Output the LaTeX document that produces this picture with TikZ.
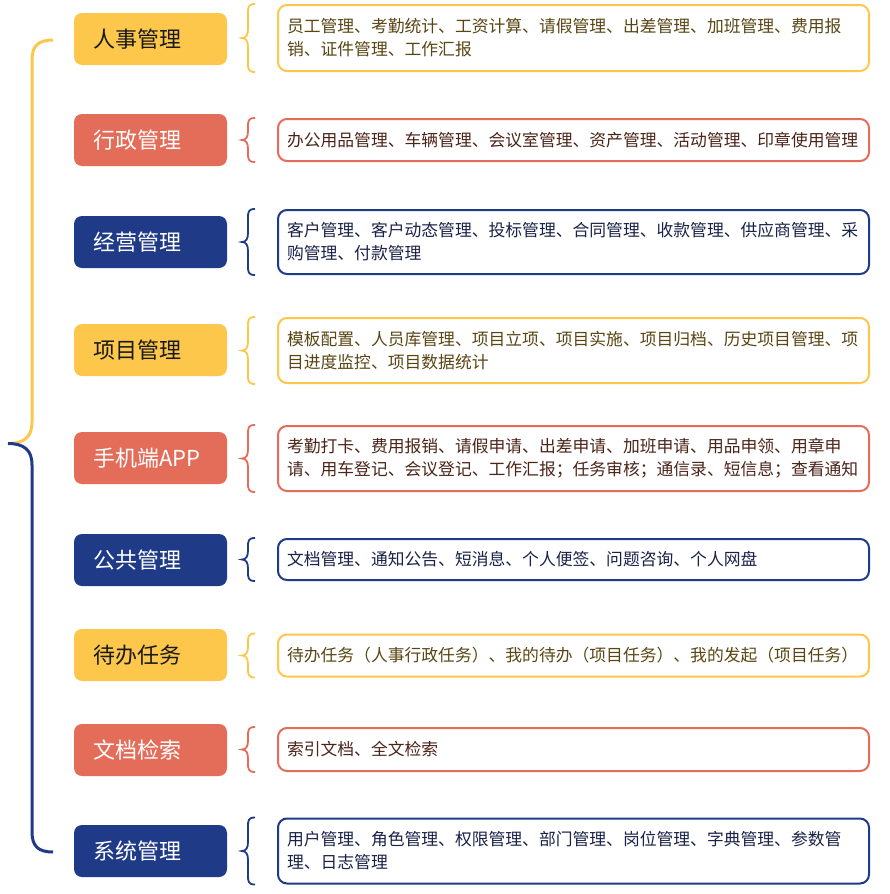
\documentclass[tikz,border=0pt]{standalone}
\usepackage{fontspec}
\setmainfont{Noto Sans CJK SC}
\usetikzlibrary{calc}
\definecolor{cy}{HTML}{FDC74C}
\definecolor{cr}{HTML}{E46D5A}
\definecolor{cn}{HTML}{1F3B87}
\definecolor{ty}{HTML}{5A4614}
\definecolor{tr}{HTML}{4B2418}
\definecolor{tn}{HTML}{1B2248}
\tikzset{
  cat/.style={rounded corners=8pt, minimum width=153pt, minimum height=52pt,
    text width=115pt, inner xsep=19pt, align=left,
    font=\fontsize{22}{25}\selectfont},
  caty/.style={cat, fill=cy, text=black!90},
  catr/.style={cat, fill=cr, text=white},
  catn/.style={cat, fill=cn, text=white},
  det/.style={draw, line width=2pt, rounded corners=9pt, fill=white,
    minimum width=591pt, text width=573pt, inner xsep=9pt, align=left,
    font=\fontsize{16.8}{23}\selectfont},
  dety/.style={det, draw=cy, text=ty},
  detr/.style={det, draw=cr, text=tr},
  detn/.style={det, draw=cn, text=tn},
}
\newcommand\sbrace[2]{%
  \draw[#2, line width=1.8pt] let \p1=(#1.north west), \p2=(#1.south west),
    \n1={0.5*\y1+0.5*\y2} in
    (\x1-22pt,\y1) .. controls (\x1-29pt,\y1) and (\x1-29pt,\y1-3pt) .. (\x1-29pt,\y1-10pt)
    -- (\x1-29pt,\n1+9pt) .. controls (\x1-29pt,\n1+3pt) and (\x1-31pt,\n1) .. (\x1-35pt,\n1)
    .. controls (\x1-31pt,\n1) and (\x1-29pt,\n1-3pt) .. (\x1-29pt,\n1-9pt)
    -- (\x1-29pt,\y2+10pt) .. controls (\x1-29pt,\y2+3pt) and (\x1-29pt,\y2) .. (\x1-22pt,\y2);}
\begin{document}
\begin{tikzpicture}[x=1pt,y=-1pt]
\useasboundingbox (0,0) rectangle (890,894);
\fill[white] (0,0) rectangle (890,894);

% category nodes
\node[caty] (c1) at (150.5,39) {人事管理};
\node[catr] (c2) at (150.5,140) {行政管理};
\node[catn] (c3) at (150.5,242) {经营管理};
\node[caty] (c4) at (150.5,350) {项目管理};
\node[catr] (c5) at (150.5,458) {手机端APP};
\node[catn] (c6) at (150.5,560) {公共管理};
\node[caty] (c7) at (150.5,655) {待办任务};
\node[catr] (c8) at (150.5,750) {文档检索};
\node[catn] (c9) at (150.5,851) {系统管理};

% detail nodes
\node[dety, minimum height=66pt] (d1) at (573.5,38) {员工管理、考勤统计、工资计算、请假管理、出差管理、加班管理、费用报\\销、证件管理、工作汇报};
\node[detr, minimum height=42pt] (d2) at (573.5,140) {办公用品管理、车辆管理、会议室管理、资产管理、活动管理、印章使用管理};
\node[detn, minimum height=64pt] (d3) at (573.5,242) {客户管理、客户动态管理、投标管理、合同管理、收款管理、供应商管理、采\\购管理、付款管理};
\node[dety, minimum height=65pt] (d4) at (573.5,350.5) {模板配置、人员库管理、项目立项、项目实施、项目归档、历史项目管理、项\\目进度监控、项目数据统计};
\node[detr, minimum height=65pt] (d5) at (573.5,458.5) {考勤打卡、费用报销、请假申请、出差申请、加班申请、用品申领、用章申\\请、用车登记、会议登记、工作汇报；任务审核；通信录、短信息；查看通知};
\node[detn, minimum height=41pt] (d6) at (573.5,559.5) {文档管理、通知公告、短消息、个人便签、问题咨询、个人网盘};
\node[dety, minimum height=42pt] (d7) at (573.5,655.5) {待办任务（人事行政任务）、我的待办（项目任务）、我的发起（项目任务）};
\node[detr, minimum height=43pt] (d8) at (573.5,749.5) {索引文档、全文检索};
\node[detn, minimum height=65pt] (d9) at (573.5,851) {用户管理、角色管理、权限管理、部门管理、岗位管理、字典管理、参数管\\理、日志管理};

% small braces
\sbrace{d1}{cy}
\sbrace{d2}{cr}
\sbrace{d3}{cn}
\sbrace{d4}{cy}
\sbrace{d5}{cr}
\sbrace{d6}{cn}
\sbrace{d7}{cy}
\sbrace{d8}{cr}
\sbrace{d9}{cn}

% big brace
\coordinate (btop) at (53,40);
\coordinate (bmid) at (8,443.5);
\coordinate (bbot) at (53,852);
\draw[cy, line width=3pt] (btop) .. controls (38,40) and (32,46) .. (32,60)
  -- (32,422) .. controls (32,437) and (24,443.5) .. (bmid);
\draw[cn, line width=3pt] (bmid) .. controls (24,443.5) and (32,450) .. (32,465)
  -- (32,832) .. controls (32,846) and (38,852) .. (bbot);
\end{tikzpicture}
\end{document}
